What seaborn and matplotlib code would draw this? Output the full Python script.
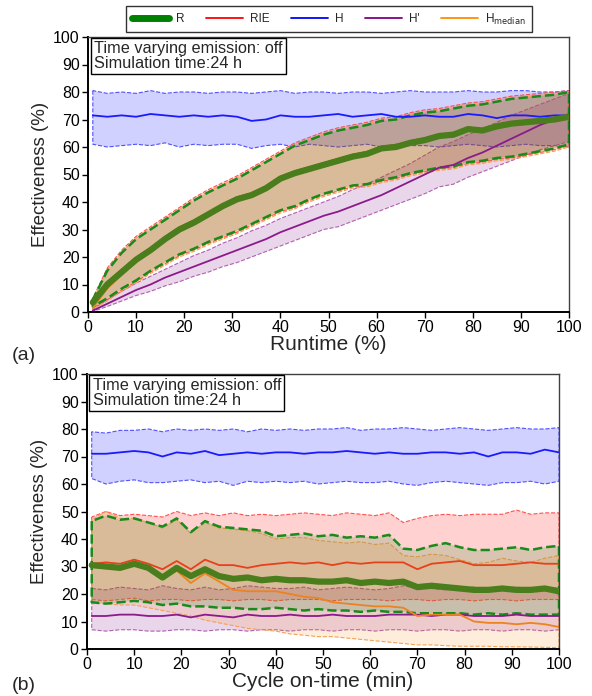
import matplotlib
matplotlib.use("Agg")
import matplotlib.pyplot as plt
from matplotlib.lines import Line2D
import seaborn as sns
import numpy as np

# x positions (runtime % for panel a, cycle on-time min for panel b)
x = [1, 4, 7, 10, 13, 16, 19, 22, 25, 28, 31, 34, 37, 40, 43, 46, 49, 52, 55, 58,
     61, 64, 67, 70, 73, 76, 79, 82, 85, 88, 91, 94, 97, 100]

# ---- panel (a): runtime ----
a_R = [3.5, 10, 14.5, 19, 22.5, 26.5, 30, 32.5, 35.5, 38.5, 41, 42.5, 45, 48.5, 50.5, 52, 53.5, 55, 56.5, 57.5,
       59.5, 60, 61.5, 62.5, 64, 64.5, 66.5, 66, 67.5, 68.5, 69, 69.5, 70, 71]
a_R_lo = [2, 5, 8.5, 11.5, 15, 18, 21, 23, 25.5, 27.5, 29.5, 32, 34.5, 37, 38.5, 41, 43, 44.5, 46, 46.5,
          48, 49, 50.5, 51.5, 52.5, 53, 54.5, 55, 56, 56.5, 57.5, 58.5, 59.5, 61]
a_R_hi = [4.5, 15, 21.5, 26.5, 30, 33.5, 37, 40.5, 43.5, 46, 48.5, 51.5, 54.5, 57.5, 60.5, 62.5, 64.5, 66, 67, 68,
          69.5, 70, 71.5, 72.5, 73, 74, 75, 75.5, 76.5, 77.5, 78, 78.5, 79, 80]
a_RIE = [3.8, 10.8, 15.3, 19.8, 23.3, 27.3, 30.8, 33.3, 36.2, 39.2, 41.8, 43.2, 45.7, 49.2, 51.2, 52.7, 54.2, 55.7, 57.2, 58.2,
         60.2, 60.7, 62.2, 63.2, 64.6, 65.1, 67.1, 66.6, 68.1, 69.1, 69.6, 70.1, 70.6, 71.5]
a_RIE_lo = [1.5, 4.5, 8, 11, 14.5, 17.5, 20.5, 22.5, 25, 27, 29, 31.5, 34, 36.5, 38, 40.5, 42.5, 44, 45.5, 46,
            47.5, 48.5, 50, 51, 52, 52.5, 54, 54.5, 55.5, 56, 57, 58, 59, 60.5]
a_RIE_hi = [5, 16, 22.5, 27.5, 31, 34.5, 38, 41.5, 44.5, 47, 49.5, 52.5, 55.5, 58.5, 61.5, 63.5, 65.5, 67, 68, 69,
            70.5, 71, 72.5, 73.5, 74, 75, 76, 76.5, 77.5, 78.5, 79, 79.5, 80, 80.5]
a_H = [71.5, 71, 71.5, 71, 72, 71.5, 71, 71.5, 71, 71.5, 71, 69.5, 70, 71.5, 71, 71, 71.5, 72, 71, 71.5,
       72, 71, 71, 71.5, 71, 71, 72, 71.5, 70.5, 71.5, 71.5, 71, 71.5, 71.5]
a_H_lo = [61, 60, 60.5, 61, 60.5, 61.5, 60, 61, 60.5, 61, 61, 59.5, 60.5, 61, 60, 61, 60.5, 60, 60.5, 61,
          60, 61, 60.5, 60.5, 60, 60.5, 61, 60.5, 60, 60.5, 61, 60.5, 60.5, 60]
a_H_hi = [80.5, 79.5, 80, 79.5, 80.5, 79.5, 80, 80, 79.5, 80, 80, 79.5, 80, 80.5, 79.5, 80, 80, 79.5, 80, 80,
          79.5, 80, 80.5, 80, 80, 80, 80.5, 80, 80, 80.5, 80.5, 80, 80, 80.5]
a_Hp = [0.5, 3, 5.5, 8, 10, 12.5, 14.5, 16.5, 18.5, 20.5, 22.5, 24.5, 26.5, 29, 31, 33, 35, 36.5, 38.5, 40.5,
        42.5, 45, 47.5, 50, 52.5, 53.5, 56, 58, 60.5, 63, 65.5, 68, 70, 72]
a_Hp_lo = [0.2, 2, 4, 6, 7.5, 9.5, 11, 13, 14.5, 16.5, 18, 20, 22, 24, 26, 28, 30, 31, 33, 35,
           37, 39, 41, 43, 45.5, 46.5, 49, 51, 53, 55, 57, 59, 60.5, 62]
a_Hp_hi = [1, 4.5, 7.5, 10.5, 13, 15.5, 18, 20.5, 22.5, 25, 27, 29.5, 31.5, 34, 36, 38, 40, 42, 44.5, 46.5,
           49, 51.5, 54, 57, 60, 62, 64.5, 66.5, 69, 71.5, 73.5, 75.5, 77.5, 79.5]
a_Hm = [1.5, 8.5, 13.5, 18.5, 22, 26, 29.5, 32, 35, 38, 40.5, 42, 44.5, 48, 50, 51.5, 53, 54.5, 56, 57,
        59, 59.5, 61, 62, 63.5, 64, 66, 65.5, 67, 68, 68.5, 69, 69.5, 70.5]
a_Hm_lo = [1, 4, 7.5, 10.5, 14, 17, 20, 22, 24.5, 26.5, 28.5, 31, 33.5, 36, 37.5, 40, 42, 43.5, 45, 45.5,
           47, 48, 49.5, 50.5, 51.5, 52, 53.5, 54, 55, 55.5, 56.5, 57.5, 58.5, 60]
a_Hm_hi = [4.5, 15.3, 21.8, 26.8, 30.3, 33.8, 37.3, 40.8, 43.8, 46.3, 48.8, 51.8, 54.8, 57.8, 60.8, 62.8, 64.8, 66.3, 67.3, 68.3,
           69.8, 70.3, 71.8, 72.8, 73.3, 74.3, 75.3, 75.8, 76.8, 77.8, 78.3, 78.8, 79.3, 80.2]

# ---- panel (b): cycle on-time ----
b_R = [30.5, 30, 29.5, 31, 29.5, 26, 29.5, 26.5, 29, 26.5, 25.5, 26, 25, 25.5, 25, 25, 24.5, 24.5, 25, 24,
       24.5, 24, 24.5, 22.5, 23, 22.5, 22, 21.5, 21.5, 22, 21.5, 21.5, 22, 21]
b_R_lo = [17, 16.5, 17, 17.5, 17, 16, 16.5, 15.5, 15.5, 15, 15, 14.5, 14.5, 15, 14.5, 14, 14.5, 14, 14, 13.5,
          14, 13.5, 13.5, 13, 13, 13, 13, 12.5, 13, 12.5, 13, 12.5, 12.5, 12.5]
b_R_hi = [46.5, 48.5, 47, 47.5, 46, 44.5, 47.5, 42.5, 46.5, 44.5, 44, 43.5, 43, 41, 41.5, 42, 41, 41.5, 40.5, 41,
          40.5, 41.5, 36.5, 36, 37.5, 38.5, 37, 36, 36, 36.5, 37, 36, 37, 37.5]
b_RIE = [31, 31.5, 31, 32.5, 31, 29, 32, 29, 32.5, 30.5, 30.5, 29.5, 30.5, 31, 31.5, 31, 31.5, 30.5, 31.5, 31,
         31.5, 31.5, 31.5, 29, 31, 31.5, 32, 30.5, 30.5, 30.5, 31, 31.5, 31, 31]
b_RIE_lo = [18, 17.5, 18, 18.5, 17.5, 18, 18, 17.5, 18, 18, 17.5, 18, 18, 17.5, 18, 18, 18, 17.5, 18, 18,
            18, 17.5, 18, 18, 17.5, 18, 18, 17.5, 18, 18, 17.5, 18, 18, 18]
b_RIE_hi = [48, 50, 48.5, 49, 48.5, 48, 50, 48.5, 49.5, 48.5, 49.5, 48.5, 49, 48.5, 49, 49.5, 49, 48.5, 49.5, 49,
            48.5, 49.5, 46, 47.5, 48.5, 49, 48.5, 49, 49, 49, 50.5, 49, 49.5, 49.5]
b_H = [71, 71, 71.5, 72, 71.5, 70, 71.5, 71, 72, 70.5, 71, 71.5, 71, 71.5, 71.5, 71, 71.5, 71.5, 72, 71.5,
       71, 71.5, 71, 71, 71.5, 71.5, 71, 71.5, 70, 71.5, 71.5, 71, 72.5, 71.5]
b_H_lo = [62, 60, 61, 61.5, 60.5, 60.5, 61, 61.5, 60.5, 61, 59.5, 61, 60.5, 61, 60.5, 61, 60, 60.5, 61, 60.5,
          60.5, 61, 60, 59.5, 60.5, 61, 60.5, 60, 59.5, 60.5, 60.5, 61, 60, 61]
b_H_hi = [79, 78.5, 79.5, 79.5, 80, 79, 80, 79.5, 80, 79.5, 80, 79, 80, 79.5, 80, 79.5, 80, 80, 80.5, 79.5,
          80, 80, 80.5, 80, 79.5, 80, 80.5, 80, 79.5, 80, 80.5, 80, 80, 80.5]
b_Hp = [12, 12, 12.5, 12.5, 12, 12, 12.5, 11.5, 12.5, 12, 11.5, 12.5, 12, 12, 12.5, 12, 12, 12.5, 12, 12,
        12, 12.5, 12.5, 12.5, 12, 12.5, 12.5, 12, 12, 12, 12.5, 12, 12, 12]
b_Hp_lo = [7, 6.5, 7, 7, 6.5, 6.5, 7, 7, 6.5, 7, 7, 6.5, 7, 7, 6.5, 7, 7, 6.5, 7, 7,
           6.5, 7, 7, 6.5, 7, 7, 6.5, 7, 7, 6.5, 7, 7, 6.5, 7]
b_Hp_hi = [22, 21.5, 22.5, 22, 21.5, 23, 22, 21.5, 22.5, 21.5, 22, 23, 22.5, 22, 22, 22.5, 21.5, 22, 22.5, 22,
           21.5, 22, 23, 22, 22, 21.5, 22, 22.5, 21.5, 22, 22.5, 22, 22.5, 22]
b_Hm = [30, 30.5, 29.5, 30.5, 29, 25.5, 28.5, 24, 27.5, 24.5, 21.5, 21, 21, 21, 20, 19, 18.5, 17, 16.5, 16,
        15.5, 15.5, 15, 12, 12.5, 12.5, 12.5, 10, 9.5, 9.5, 9, 9.5, 9, 8]
b_Hm_lo = [16.5, 16.5, 16, 16, 15, 14, 13, 12, 10.5, 9.5, 8.5, 7.5, 7, 6.5, 5.5, 5, 4.5, 4.5, 4, 3.5,
           3, 2.5, 2, 1.5, 1.5, 1.2, 1, 1, 1, 0.8, 0.8, 0.7, 0.6, 0.5]
b_Hm_hi = [47, 50, 47.5, 47.5, 46, 44, 47, 42, 46, 44, 43.5, 43, 42, 40, 40.5, 40.5, 39.5, 39, 38.5, 39,
           38, 38.5, 34, 33.5, 34.5, 34, 32.5, 31, 31.5, 33, 32, 31.5, 33, 34]

sns.set_style("ticks")
plt.rcParams["font.family"] = ["Liberation Sans", "DejaVu Sans"]

col = {"R": "#4a7d1c", "RIE": "#e8401c", "H": "#1a1aff", "Hp": "#8b1a8b", "Hm": "#ee8220"}
fill = {"R": (0.0, 0.5, 0.0, 0.15), "RIE": (1.0, 0.0, 0.0, 0.18), "H": (0.0, 0.0, 1.0, 0.18),
        "Hp": (0.5, 0.0, 0.5, 0.16), "Hm": (1.0, 0.55, 0.1, 0.15)}
edge = {"R": "#1a8a1a", "RIE": "#ff5050", "H": "#5050ff", "Hp": "#b060b0", "Hm": "#f5a050"}


def panel(ax, d, xlabel):
    # bands first, then mean lines
    for k in ["H", "Hp", "RIE", "Hm", "R"]:
        m, lo, hi = d[k]
        ax.fill_between(x, lo, hi, facecolor=fill[k], edgecolor=edge[k],
                        linestyle="--", linewidth=1.8 if k == "R" else 0.8, zorder=1)
    for k in ["H", "Hp", "RIE", "Hm", "R"]:
        m = d[k][0]
        sns.lineplot(x=x, y=m, ax=ax, color=col[k], linewidth=4.5 if k == "R" else 1.3,
                     zorder=3 if k == "R" else 2)
    ax.set_xlim(0, 100)
    ax.set_ylim(0, 100)
    ax.set_xticks(range(0, 101, 10))
    ax.set_yticks(range(0, 101, 10))
    ax.tick_params(direction="out", length=4, width=1, labelsize=11.5, colors="black", pad=2)
    ax.set_xlabel(xlabel, fontsize=15, labelpad=0)
    ax.set_ylabel("Effectiveness (%)", fontsize=13.5, labelpad=3)
    for s in ["left", "bottom"]:
        ax.spines[s].set_color("black")
        ax.spines[s].set_linewidth(1.4)
    for s in ["top", "right"]:
        ax.spines[s].set_color("#404040")
        ax.spines[s].set_linewidth(1.0)
    ax.text(0.012, 0.985, "Time varying emission: off\nSimulation time:24 h",
            transform=ax.transAxes, va="top", ha="left", fontsize=11.7, linespacing=0.95,
            bbox=dict(boxstyle="square,pad=0.2", fc="white", ec="black", lw=1), zorder=5)


fig = plt.figure(figsize=(5.92, 6.96), dpi=100)
ax1 = fig.add_axes([88 / 592, 1 - 312 / 696, 481 / 592, 275 / 696])
ax2 = fig.add_axes([87 / 592, 1 - 649 / 696, 472 / 592, 275 / 696])

da = {"R": (a_R, a_R_lo, a_R_hi), "RIE": (a_RIE, a_RIE_lo, a_RIE_hi), "H": (a_H, a_H_lo, a_H_hi),
      "Hp": (a_Hp, a_Hp_lo, a_Hp_hi), "Hm": (a_Hm, a_Hm_lo, a_Hm_hi)}
db = {"R": (b_R, b_R_lo, b_R_hi), "RIE": (b_RIE, b_RIE_lo, b_RIE_hi), "H": (b_H, b_H_lo, b_H_hi),
      "Hp": (b_Hp, b_Hp_lo, b_Hp_hi), "Hm": (b_Hm, b_Hm_lo, b_Hm_hi)}
panel(ax1, da, "Runtime (%)")
panel(ax2, db, "Cycle on-time (min)")

fig.text(12 / 592, 1 - 355 / 696, "(a)", fontsize=14, va="center", ha="left")
fig.text(12 / 592, 1 - 686 / 696, "(b)", fontsize=14, va="center", ha="left")

handles = [Line2D([], [], color="green", lw=5), Line2D([], [], color="red", lw=1.3),
           Line2D([], [], color="blue", lw=1.3), Line2D([], [], color="purple", lw=1.3),
           Line2D([], [], color="darkorange", lw=1.3)]
labels = ["R", "RIE", "H", "H'", r"H$_{\mathrm{median}}$"]
leg = fig.legend(handles, labels, loc="center", bbox_to_anchor=(329 / 592, 1 - 19 / 696), ncol=5,
                 frameon=True, fancybox=False, edgecolor="black", fontsize=8.5,
                 handlelength=3.1, columnspacing=1.85, handletextpad=0.6, borderpad=0.5)
leg.get_frame().set_linewidth(1.0)

fig.savefig("out.png", dpi=100, facecolor="white")
